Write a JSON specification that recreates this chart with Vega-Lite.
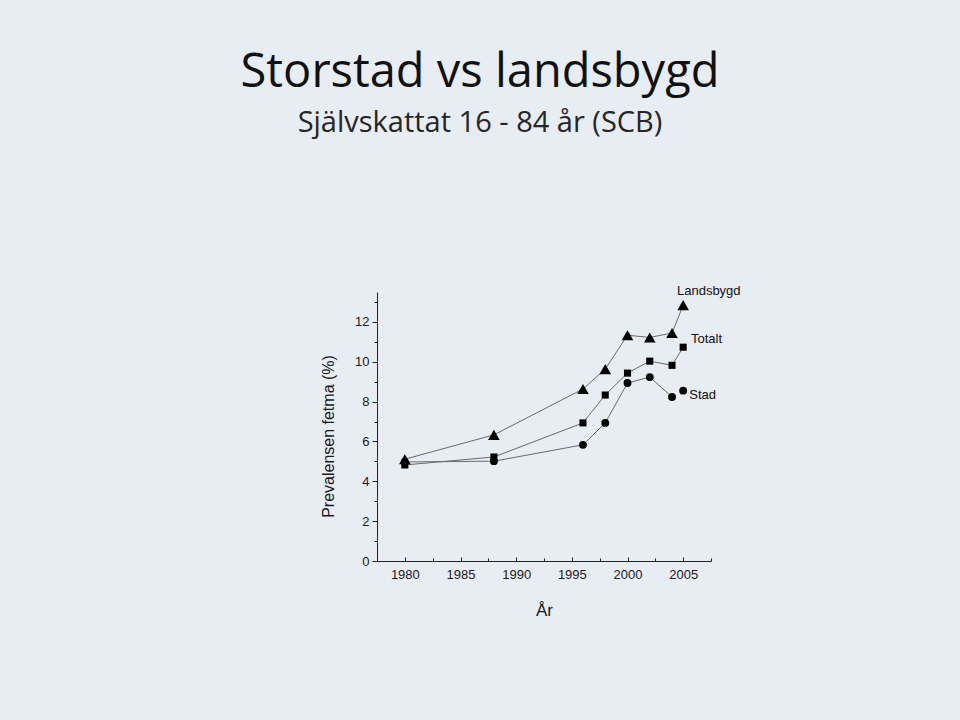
{
  "$schema": "https://vega.github.io/schema/vega-lite/v6.json",
  "autosize": {"type": "none"},
  "width": 334,
  "height": 269,
  "padding": {"left": 377, "top": 292, "right": 249, "bottom": 159},
  "background": "#e8ecf3",
  "title": {
    "text": "Storstad vs landsbygd",
    "subtitle": "Självskattat 16 - 84 år (SCB)",
    "anchor": "middle",
    "frame": "group",
    "dx": -64,
    "offset": 146,
    "font": "Open Sans",
    "fontSize": 47,
    "fontWeight": "normal",
    "color": "#111111",
    "subtitleFont": "Open Sans",
    "subtitleFontSize": 29,
    "subtitleColor": "#262626",
    "subtitlePadding": 12
  },
  "config": {
    "view": {"stroke": null},
    "axis": {
      "labelFont": "Liberation Sans",
      "titleFont": "Liberation Sans",
      "labelFontSize": 13,
      "labelColor": "#1a1a1a",
      "titleColor": "#1a1a1a",
      "titleFontWeight": "normal",
      "domainColor": "#222222",
      "tickColor": "#222222",
      "grid": false
    }
  },
  "datasets": {
    "points": [
      {"series": "Landsbygd", "seg": "Landsbygd", "year": 1980, "value": 5.11},
      {"series": "Landsbygd", "seg": "Landsbygd", "year": 1988, "value": 6.33},
      {"series": "Landsbygd", "seg": "Landsbygd", "year": 1996, "value": 8.63},
      {"series": "Landsbygd", "seg": "Landsbygd", "year": 1998, "value": 9.63},
      {"series": "Landsbygd", "seg": "Landsbygd", "year": 2000, "value": 11.33},
      {"series": "Landsbygd", "seg": "Landsbygd", "year": 2002, "value": 11.22},
      {"series": "Landsbygd", "seg": "Landsbygd", "year": 2004, "value": 11.44},
      {"series": "Landsbygd", "seg": "Landsbygd", "year": 2005, "value": 12.84},
      {"series": "Totalt", "seg": "Totalt", "year": 1980, "value": 4.82},
      {"series": "Totalt", "seg": "Totalt", "year": 1988, "value": 5.22},
      {"series": "Totalt", "seg": "Totalt", "year": 1996, "value": 6.93},
      {"series": "Totalt", "seg": "Totalt", "year": 1998, "value": 8.33},
      {"series": "Totalt", "seg": "Totalt", "year": 2000, "value": 9.43},
      {"series": "Totalt", "seg": "Totalt", "year": 2002, "value": 10.03},
      {"series": "Totalt", "seg": "Totalt", "year": 2004, "value": 9.82},
      {"series": "Totalt", "seg": "Totalt", "year": 2005, "value": 10.73},
      {"series": "Stad", "seg": "Stad", "year": 1980, "value": 4.97},
      {"series": "Stad", "seg": "Stad", "year": 1988, "value": 5.01},
      {"series": "Stad", "seg": "Stad", "year": 1996, "value": 5.83},
      {"series": "Stad", "seg": "Stad", "year": 1998, "value": 6.93},
      {"series": "Stad", "seg": "Stad", "year": 2000, "value": 8.93},
      {"series": "Stad", "seg": "Stad", "year": 2002, "value": 9.23},
      {"series": "Stad", "seg": "Stad", "year": 2004, "value": 8.23},
      {"series": "Stad", "seg": "Stad 2005", "year": 2005, "value": 8.55}
    ],
    "labels": [
      {"label": "Landsbygd", "year": 2007.3, "value": 13.55},
      {"label": "Totalt", "year": 2007.1, "value": 11.14},
      {"label": "Stad", "year": 2006.75, "value": 8.33}
    ]
  },
  "resolve": {"axis": {"x": "independent", "y": "independent"}},
  "layer": [
    {
      "data": {"name": "points"},
      "mark": {"type": "line", "color": "#6a6a6a", "strokeWidth": 1},
      "encoding": {
        "x": {
          "field": "year", "type": "quantitative",
          "scale": {"domain": [1977.5, 2007.5], "nice": false, "zero": false},
          "axis": {
            "orient": "bottom",
            "title": "År",
            "titleFontSize": 17,
            "titlePadding": 21,
            "values": [1980, 1985, 1990, 1995, 2000, 2005],
            "format": "d",
            "tickSize": -4,
            "labelPadding": 11
          }
        },
        "y": {
          "field": "value", "type": "quantitative",
          "scale": {"domain": [0, 13.5], "nice": false},
          "axis": {
            "orient": "left",
            "title": "Prevalensen fetma  (%)",
            "titleFontSize": 16,
            "titlePadding": 18,
            "titleY": 144,
            "values": [0, 2, 4, 6, 8, 10, 12],
            "tickSize": 5,
            "labelPadding": 3
          }
        },
        "detail": {"field": "seg"}
      }
    },
    {
      "data": {"name": "points"},
      "mark": {"type": "point", "filled": true, "color": "#000000", "opacity": 1},
      "encoding": {
        "x": {
          "field": "year", "type": "quantitative",
          "axis": {
            "orient": "bottom",
            "title": null,
            "labels": false,
            "domain": false,
            "values": [1977.5, 1982.5, 1987.5, 1992.5, 1997.5, 2002.5, 2007.5],
            "tickSize": -3
          }
        },
        "y": {
          "field": "value", "type": "quantitative",
          "axis": {
            "orient": "left",
            "title": null,
            "labels": false,
            "domain": false,
            "values": [1, 3, 5, 7, 9, 11, 13],
            "tickSize": 3
          }
        },
        "shape": {
          "field": "series", "type": "nominal",
          "scale": {"domain": ["Landsbygd", "Totalt", "Stad"], "range": ["triangle-up", "square", "circle"]},
          "legend": null
        },
        "size": {
          "field": "series", "type": "nominal",
          "scale": {"type": "ordinal", "domain": ["Landsbygd", "Totalt", "Stad"], "range": [135, 50, 62]},
          "legend": null
        }
      }
    },
    {
      "data": {"name": "labels"},
      "mark": {"type": "text", "font": "Liberation Sans", "fontSize": 13, "color": "#111111", "align": "center", "baseline": "middle"},
      "encoding": {
        "x": {"field": "year", "type": "quantitative", "axis": null},
        "y": {"field": "value", "type": "quantitative", "axis": null},
        "text": {"field": "label"}
      }
    }
  ]
}
